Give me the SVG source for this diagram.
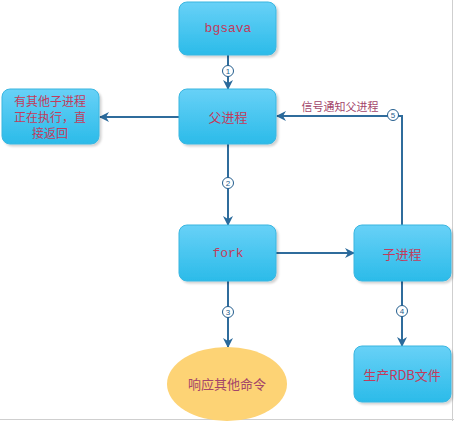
<svg xmlns="http://www.w3.org/2000/svg" width="454" height="421" viewBox="0 0 454 421">
<defs>
<linearGradient id="g" x1="0" y1="0" x2="0" y2="1">
<stop offset="0" stop-color="#68D1F7"/>
<stop offset="1" stop-color="#2BBBE9"/>
</linearGradient>
<filter id="sh" x="-10%" y="-10%" width="130%" height="130%">
<feDropShadow dx="2" dy="2" stdDeviation="1.2" flood-color="#000" flood-opacity="0.18"/>
</filter>
<marker id="ar" viewBox="0 0 10 10" refX="9" refY="5" markerWidth="10" markerHeight="10" markerUnits="userSpaceOnUse" orient="auto">
<path d="M0,0 L10,5 L0,10 L3,5 Z" fill="#2A6A9B"/>
</marker>
<style>
.box{fill:url(#g);stroke:#3AB6E0;stroke-width:1;filter:url(#sh)}
.t{font-family:"Noto Sans CJK SC","Liberation Sans",sans-serif;font-size:13px;fill:#C23B5C;text-anchor:middle;dominant-baseline:central}
.s{font-size:12px}
.m{font-family:"Liberation Mono","Noto Sans CJK SC",monospace;font-size:13px;fill:#C23B5C;text-anchor:middle;dominant-baseline:central}
.c{fill:none;stroke:#2F6C9C;stroke-width:2}
.n{fill:#fff;stroke:#245E8E;stroke-width:1}
.nt{font-family:"Liberation Sans",sans-serif;font-size:8px;fill:#245E8E;text-anchor:middle;dominant-baseline:central}
</style>
</defs>
<rect x="0" y="0" width="454" height="421" fill="#fff"/>
<line x1="452.5" y1="0" x2="452.5" y2="421" stroke="#cfcfcf"/>
<line x1="0" y1="419.5" x2="454" y2="419.5" stroke="#cfcfcf"/>
<g id="connectors">
<line class="c" x1="228" y1="55" x2="228" y2="89" marker-end="url(#ar)"/>
<line class="c" x1="179" y1="117" x2="100" y2="117" marker-end="url(#ar)"/>
<line class="c" x1="228" y1="144" x2="228" y2="225" marker-end="url(#ar)"/>
<line class="c" x1="276" y1="253" x2="354" y2="253" marker-end="url(#ar)"/>
<line class="c" x1="228" y1="281" x2="228" y2="347" marker-end="url(#ar)"/>
<line class="c" x1="402" y1="281" x2="402" y2="346" marker-end="url(#ar)"/>
<polyline class="c" points="402,225 402,116 277,116" marker-end="url(#ar)"/>
<circle class="n" cx="228" cy="71" r="5.5"/><text class="nt" x="228" y="71">1</text>
<circle class="n" cx="228" cy="183" r="5.5"/><text class="nt" x="228" y="183">2</text>
<circle class="n" cx="228" cy="312" r="5.5"/><text class="nt" x="228" y="312">3</text>
<circle class="n" cx="402" cy="311" r="5.5"/><text class="nt" x="402" y="311">4</text>
<circle class="n" cx="393" cy="115" r="5.5"/><text class="nt" x="393" y="115">5</text>
<text x="340" y="106" font-family="'Noto Sans CJK SC',sans-serif" font-size="11" fill="#A3456A" text-anchor="middle" dominant-baseline="central">信号通知父进程</text>
</g>
<g id="bgsava"><rect class="box" x="179" y="2" width="97" height="53" rx="8"/><text class="m" x="228" y="28">bgsava</text></g>
<g id="parent"><rect class="box" x="179" y="89" width="97" height="55" rx="8"/><text class="t" x="228" y="116">父进程</text></g>
<g id="other"><rect class="box" x="2" y="89" width="97" height="55" rx="8"/><text class="t s" x="50" y="100">有其他子进程</text><text class="t s" x="50" y="116">正在执行，直</text><text class="t s" x="50" y="132">接返回</text></g>
<g id="fork"><rect class="box" x="179" y="225" width="97" height="56" rx="8"/><text class="m" x="228" y="253">fork</text></g>
<g id="child"><rect class="box" x="354" y="225" width="97" height="56" rx="8"/><text class="t" x="402" y="253">子进程</text></g>
<g id="rdb"><rect class="box" x="354" y="346" width="97" height="56" rx="8"/><text class="t" x="402" y="374">生产RDB文件</text></g>
<g id="respond"><ellipse cx="227" cy="384" rx="60" ry="37" fill="#FDD375"/><text class="t" x="227" y="383" style="fill:#A3456A">响应其他命令</text></g>
</svg>
